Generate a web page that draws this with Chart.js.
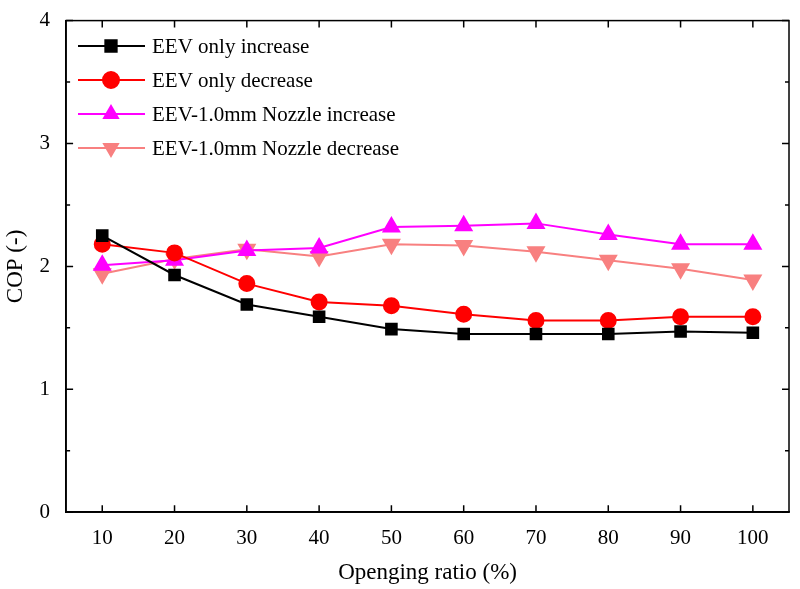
<!DOCTYPE html>
<html>
<head>
<script src="https://cdn.jsdelivr.net/npm/chart.js@4"></script>
<style>body{margin:0;background:#fff}#wrap{width:800px;height:589px}</style>
</head>
<body>
<div id="wrap"><canvas id="c"></canvas></div>
<script>
var ratios = ['10', '20', '30', '40', '50', '60', '70', '80', '90', '100'];
var eevIncrease = [2.25, 1.93, 1.69, 1.59, 1.49, 1.45, 1.45, 1.45, 1.47, 1.46];
var eevDecrease = [2.18, 2.11, 1.86, 1.71, 1.68, 1.61, 1.56, 1.56, 1.59, 1.59];
var nozzleIncrease = [2.01, 2.05, 2.13, 2.15, 2.32, 2.33, 2.35, 2.26, 2.18, 2.18];
var nozzleDecrease = [1.94, 2.06, 2.14, 2.08, 2.18, 2.17, 2.12, 2.05, 1.98, 1.89];
var yTicks = [0, 1, 2, 3, 4];

var FONT = 'Liberation Serif';

function ds(label, data, color, style, r, rot) {
  return {
    label: label, data: data, borderColor: color, backgroundColor: color,
    borderWidth: 2, pointStyle: style, pointRadius: r, pointRotation: rot || 0,
    pointHoverRadius: r
  };
}

// frame, inward ticks and the line+marker legend
var frame = {
  id: 'frame',
  afterDraw: function (chart) {
    var c = chart.ctx, a = chart.chartArea, x = chart.scales.x, y = chart.scales.y;
    c.save();
    c.strokeStyle = '#000';
    c.lineWidth = 1.5;
    c.strokeRect(a.left, a.top, a.right - a.left, a.bottom - a.top);
    c.beginPath();
    for (var v = 0; v <= 4; v += 0.5) {
      var py = y.getPixelForValue(v), len = (v % 1 === 0) ? 7 : 4;
      c.moveTo(a.left, py); c.lineTo(a.left + len, py);
      c.moveTo(a.right, py); c.lineTo(a.right - len, py);
    }
    for (var i = 0; i < ratios.length; i++) {
      var px = x.getPixelForValue(i);
      c.moveTo(px, a.bottom); c.lineTo(px, a.bottom - 7);
      c.moveTo(px, a.top); c.lineTo(px, a.top + 7);
    }
    c.stroke();
    // legend
    c.font = '21px ' + FONT;
    c.textBaseline = 'middle';
    chart.data.datasets.forEach(function (d, k) {
      var ly = 46 + k * 34;
      c.strokeStyle = d.borderColor;
      c.lineWidth = 2;
      c.beginPath(); c.moveTo(78, ly); c.lineTo(145, ly); c.stroke();
      Chart.helpers.drawPoint(c, { pointStyle: d.pointStyle, radius: 8, rotation: d.pointRotation, borderWidth: 1 }, 111, ly);
      c.fillStyle = d.borderColor;
      c.fill();
      c.fillStyle = '#000';
      c.fillText(d.label, 152, ly + 1);
    });
    c.restore();
  }
};

new Chart(document.getElementById('c'), {
  type: 'line',
  data: {
    labels: ratios,
    datasets: [
      ds('EEV only increase', eevIncrease, '#000000', 'rect', 7.5),
      ds('EEV only decrease', eevDecrease, '#ff0000', 'circle', 7.5),
      ds('EEV-1.0mm Nozzle increase', nozzleIncrease, '#ff00ff', 'triangle', 9),
      ds('EEV-1.0mm Nozzle decrease', nozzleDecrease, '#f88080', 'triangle', 9, 180)
    ]
  },
  options: {
    responsive: true,
    maintainAspectRatio: false,
    animation: false,
    layout: { padding: { top: 15, right: 0, left: 0, bottom: 0 } },
    plugins: { legend: { display: false }, tooltip: { enabled: false } },
    scales: {
      x: {
        offset: true,
        grid: { display: false },
        border: { color: '#000', width: 1.5 },
        ticks: { color: '#000', font: { family: FONT, size: 21 }, padding: 6 },
        title: { display: true, text: 'Openging ratio (%)', color: '#000', font: { family: FONT, size: 23 }, padding: { top: 2, bottom: 2 } }
      },
      y: {
        min: 0, max: 4,
        afterBuildTicks: function (ax) { ax.ticks = yTicks.map(function (v) { return { value: v }; }); },
        grid: { display: false },
        border: { color: '#000', width: 1.5 },
        ticks: { color: '#000', font: { family: FONT, size: 21 }, padding: 8 },
        title: { display: true, text: 'COP (-)', color: '#000', font: { family: FONT, size: 23 }, padding: 2 }
      }
    }
  },
  plugins: [frame]
});
</script>
</body>
</html>
